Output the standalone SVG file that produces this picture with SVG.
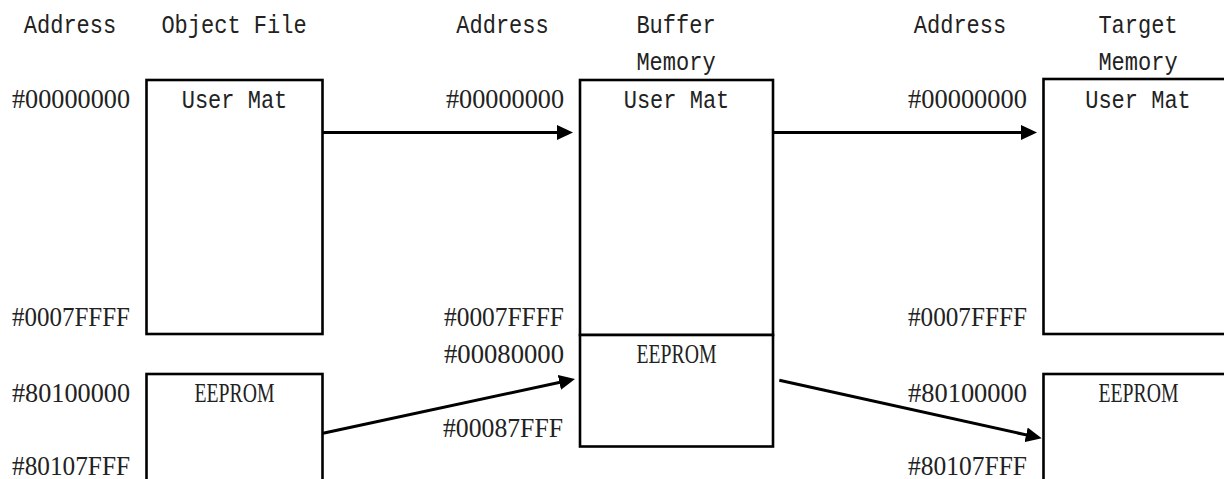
<svg xmlns="http://www.w3.org/2000/svg" width="1224" height="479" viewBox="0 0 1224 479">
  <style>
    .box { fill: #ffffff; stroke: #000000; stroke-width: 2.6; }
    .wire { fill: none; stroke: #000000; stroke-width: 3; marker-end: url(#head); }
    .lbl { font-family: "Liberation Mono", "DejaVu Sans Mono", monospace; font-size: 25px; fill: #222222; text-anchor: middle; }
    .addr { font-family: "Liberation Serif", "DejaVu Serif", serif; font-size: 28px; fill: #222222; text-anchor: end; }
    .mem { font-family: "Liberation Serif", "DejaVu Serif", serif; font-size: 28px; fill: #222222; text-anchor: middle; }
  </style>
  <defs>
    <marker id="head" markerUnits="userSpaceOnUse" markerWidth="16" markerHeight="15" refX="8" refY="7.5" orient="auto">
      <path d="M0,0 L16,7.5 L0,15 Z" fill="#000000"/>
    </marker>
  </defs>
  <rect width="1224" height="479" fill="#ffffff"/>

  <!-- column headings -->
  <g id="headings">
    <text class="lbl" x="70" y="33" textLength="92.4" lengthAdjust="spacingAndGlyphs">Address</text>
    <text class="lbl" x="234" y="33" textLength="145.2" lengthAdjust="spacingAndGlyphs">Object File</text>
    <text class="lbl" x="502.5" y="33" textLength="92.4" lengthAdjust="spacingAndGlyphs">Address</text>
    <text class="lbl" x="676" y="33" textLength="79.2" lengthAdjust="spacingAndGlyphs">Buffer</text>
    <text class="lbl" x="676" y="70" textLength="79.2" lengthAdjust="spacingAndGlyphs">Memory</text>
    <text class="lbl" x="960" y="33" textLength="92.4" lengthAdjust="spacingAndGlyphs">Address</text>
    <text class="lbl" x="1138" y="33" textLength="79.2" lengthAdjust="spacingAndGlyphs">Target</text>
    <text class="lbl" x="1138" y="70" textLength="79.2" lengthAdjust="spacingAndGlyphs">Memory</text>
  </g>

  <!-- object file -->
  <g id="obj-usermat">
    <rect class="box" x="146.5" y="80" width="176" height="254"/>
    <text class="lbl" x="234.5" y="108" textLength="105.6" lengthAdjust="spacingAndGlyphs">User Mat</text>
    <text class="addr" x="130" y="108" textLength="118" lengthAdjust="spacingAndGlyphs">#00000000</text>
    <text class="addr" x="130" y="326" textLength="118" lengthAdjust="spacingAndGlyphs">#0007FFFF</text>
  </g>
  <g id="obj-eeprom">
    <rect class="box" x="146.5" y="374" width="176" height="120"/>
    <text class="mem" x="234.5" y="402" textLength="80" lengthAdjust="spacingAndGlyphs">EEPROM</text>
    <text class="addr" x="130" y="402" textLength="118" lengthAdjust="spacingAndGlyphs">#80100000</text>
    <text class="addr" x="130" y="475" textLength="118" lengthAdjust="spacingAndGlyphs">#80107FFF</text>
  </g>

  <!-- buffer memory -->
  <g id="buf-usermat">
    <rect class="box" x="580" y="80" width="193" height="255"/>
    <text class="lbl" x="676.5" y="108" textLength="105.6" lengthAdjust="spacingAndGlyphs">User Mat</text>
    <text class="addr" x="564" y="108" textLength="118" lengthAdjust="spacingAndGlyphs">#00000000</text>
    <text class="addr" x="564" y="326" textLength="120" lengthAdjust="spacingAndGlyphs">#0007FFFF</text>
  </g>
  <g id="buf-eeprom">
    <rect class="box" x="580" y="335" width="193" height="111.5"/>
    <text class="mem" x="676.5" y="363" textLength="80" lengthAdjust="spacingAndGlyphs">EEPROM</text>
    <text class="addr" x="564" y="363" textLength="120" lengthAdjust="spacingAndGlyphs">#00080000</text>
    <text class="addr" x="563" y="437" textLength="120" lengthAdjust="spacingAndGlyphs">#00087FFF</text>
  </g>

  <!-- target memory -->
  <g id="tgt-usermat">
    <rect class="box" x="1043.5" y="79" width="200" height="255"/>
    <text class="lbl" x="1138" y="108" textLength="105.6" lengthAdjust="spacingAndGlyphs">User Mat</text>
    <text class="addr" x="1027" y="108" textLength="119" lengthAdjust="spacingAndGlyphs">#00000000</text>
    <text class="addr" x="1027" y="326" textLength="119" lengthAdjust="spacingAndGlyphs">#0007FFFF</text>
  </g>
  <g id="tgt-eeprom">
    <rect class="box" x="1043.5" y="374" width="200" height="120"/>
    <text class="mem" x="1138.5" y="402" textLength="80" lengthAdjust="spacingAndGlyphs">EEPROM</text>
    <text class="addr" x="1027" y="402" textLength="119" lengthAdjust="spacingAndGlyphs">#80100000</text>
    <text class="addr" x="1027" y="475" textLength="119" lengthAdjust="spacingAndGlyphs">#80107FFF</text>
  </g>

  <!-- transfers -->
  <g id="connectors">
    <line class="wire" x1="323" y1="132.5" x2="565" y2="132.5"/>
    <line class="wire" x1="773" y1="132.5" x2="1029" y2="132.5"/>
    <line class="wire" x1="323" y1="433.3" x2="567.2" y2="380.7"/>
    <line class="wire" x1="779.3" y1="380.3" x2="1033.9" y2="436.6"/>
  </g>
</svg>
